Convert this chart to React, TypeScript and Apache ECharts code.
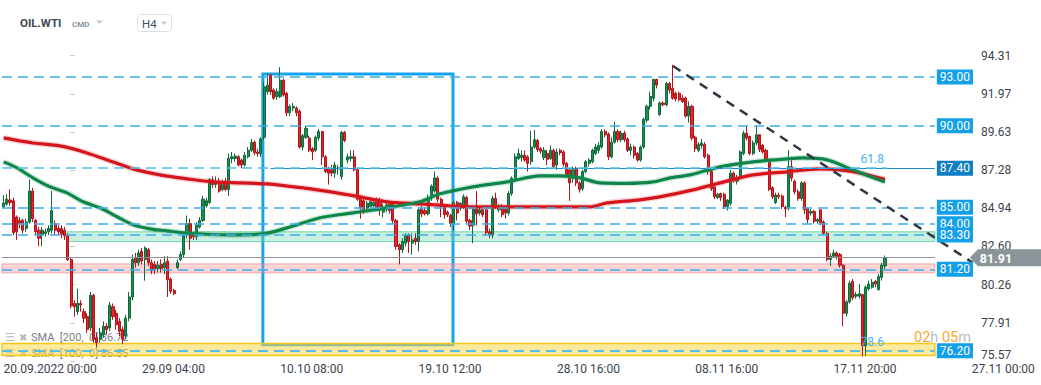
import React, { useEffect, useRef } from "react";
import * as echarts from "echarts";

// H4 candles: [open, close, low, high], index 0 = 20.09.2022 00:00
const ohlc: number[][] = [
  [85.05, 85.26, 84.95, 85.75], [85.2, 85.5, 85.1, 85.8], [85.45, 85.3, 85.1, 86.1], [85.4, 83.45, 83.3, 85.6],
  [84.4, 83.5, 83.0, 84.5], [84.2, 84.0, 83.7, 84.4], [84.2, 83.6, 83.4, 84.3], [83.7, 84.1, 83.5, 84.3],
  [84.1, 86.0, 84.0, 86.7], [86.0, 84.3, 84.1, 86.2], [84.2, 83.5, 83.3, 84.3], [83.6, 83.1, 82.6, 83.8],
  [83.3, 83.6, 82.6, 83.8], [83.4, 83.5, 83.2, 83.7], [83.5, 83.7, 83.3, 83.9], [83.6, 84.8, 83.4, 86.0],
  [84.0, 83.6, 83.3, 84.2], [83.7, 83.5, 83.3, 83.9], [83.7, 83.35, 83.1, 83.9], [83.6, 83.25, 83.0, 83.8],
  [83.3, 81.8, 81.7, 83.4], [81.8, 78.95, 78.8, 81.9], [79.1, 78.9, 78.3, 79.3], [78.6, 79.1, 78.4, 80.0],
  [79.1, 79.0, 78.6, 79.3], [78.6, 78.2, 77.9, 78.8], [78.3, 77.5, 77.3, 78.5], [77.6, 79.6, 77.4, 79.8],
  [79.6, 76.9, 76.7, 79.7], [77.0, 76.7, 76.4, 77.3], [76.9, 77.3, 76.7, 77.6], [77.2, 77.7, 77.0, 78.0],
  [77.7, 77.5, 77.2, 77.9], [77.6, 79.0, 77.4, 79.2], [78.9, 78.3, 78.1, 79.1], [78.5, 77.8, 77.5, 78.7],
  [78.0, 77.4, 77.1, 78.2], [77.5, 76.9, 76.6, 77.7], [77.1, 78.2, 76.9, 78.4], [78.2, 79.5, 78.0, 79.8],
  [79.5, 81.8, 79.3, 82.1], [81.9, 81.6, 81.3, 82.2], [81.6, 82.2, 81.4, 82.4], [82.3, 81.7, 81.5, 82.5],
  [81.8, 82.5, 80.5, 82.6], [82.4, 81.6, 81.4, 82.5], [81.6, 81.1, 80.9, 81.8], [81.5, 81.2, 80.9, 81.7],
  [81.25, 81.45, 81.0, 81.7], [81.5, 81.25, 81.0, 81.8], [81.3, 81.6, 80.9, 82.0], [81.7, 80.55, 79.5, 82.0],
  [80.6, 79.85, 79.7, 80.7], [79.9, 79.7, 79.6, 80.0], [81.3, 81.6, 81.2, 81.8], [81.8, 82.1, 81.7, 82.3],
  [82.1, 83.3, 81.9, 83.5], [83.3, 84.0, 83.1, 84.5], [84.0, 83.1, 82.4, 84.3], [83.3, 83.2, 83.0, 83.5],
  [83.2, 83.9, 83.0, 84.1], [83.8, 84.2, 83.7, 84.4], [84.2, 85.5, 84.1, 85.7], [85.1, 85.4, 85.0, 85.6],
  [85.3, 86.7, 85.2, 86.8], [86.7, 86.4, 86.2, 86.9], [86.4, 86.6, 86.2, 86.9], [86.6, 86.0, 85.9, 86.8],
  [86.1, 86.5, 86.0, 86.7], [86.6, 86.1, 86.0, 86.8], [86.1, 88.0, 85.7, 88.3], [88.0, 88.1, 87.7, 88.4],
  [88.0, 88.15, 87.8, 88.3], [88.1, 87.6, 87.5, 88.2], [87.9, 87.6, 87.4, 88.0], [87.6, 88.2, 87.5, 88.4],
  [88.1, 88.5, 88.0, 88.7], [88.5, 89.0, 88.4, 89.2], [89.0, 88.35, 88.2, 89.1], [88.4, 88.3, 88.1, 88.6],
  [88.3, 89.2, 88.1, 89.3], [89.3, 92.4, 89.1, 92.7], [92.1, 92.5, 91.9, 93.2], [93.1, 92.1, 91.9, 93.2],
  [92.2, 91.7, 91.6, 92.3], [91.8, 92.1, 91.6, 92.3], [91.8, 92.8, 91.7, 93.6], [92.8, 91.9, 91.8, 92.9],
  [92.0, 90.8, 90.6, 92.1], [90.8, 91.2, 90.6, 91.3], [91.1, 91.2, 90.9, 91.4], [91.1, 90.8, 90.6, 91.2],
  [90.9, 88.7, 88.6, 91.0], [88.7, 89.4, 88.5, 89.5], [89.3, 89.85, 89.2, 90.0], [89.25, 88.5, 88.4, 89.4],
  [88.6, 88.4, 87.9, 88.7], [88.5, 89.3, 88.4, 89.4], [89.25, 89.65, 89.1, 89.8], [89.65, 88.1, 87.6, 89.7],
  [88.1, 87.2, 87.1, 88.2], [87.4, 87.1, 86.4, 87.5], [87.3, 87.1, 86.9, 87.6], [87.1, 87.6, 86.8, 87.8],
  [87.35, 87.45, 87.0, 87.6], [86.9, 89.6, 86.7, 89.7], [89.6, 89.1, 89.0, 89.7], [87.9, 88.1, 87.7, 88.3],
  [88.0, 88.1, 87.8, 88.5], [88.1, 87.3, 87.2, 88.5], [87.3, 85.5, 85.4, 87.4], [85.6, 84.95, 84.3, 85.7],
  [85.4, 84.85, 84.6, 85.6], [84.95, 85.25, 84.7, 85.4], [85.05, 85.35, 84.9, 85.6], [85.1, 85.3, 85.0, 85.5],
  [85.5, 84.95, 84.8, 85.6], [85.4, 85.05, 84.5, 85.6], [84.7, 85.0, 84.4, 85.2], [84.9, 85.15, 84.7, 85.3],
  [85.2, 84.8, 84.6, 85.3], [85.2, 84.2, 84.0, 85.3], [84.2, 82.6, 82.4, 84.3], [82.7, 82.4, 81.5, 82.8],
  [82.4, 82.9, 82.2, 83.1], [82.8, 83.3, 82.6, 83.4], [83.3, 82.9, 82.2, 83.4], [82.8, 83.0, 82.1, 83.4],
  [83.1, 82.9, 82.7, 83.4], [82.9, 84.85, 82.3, 85.0], [84.9, 84.6, 84.4, 85.1], [84.8, 84.6, 84.5, 85.0],
  [84.6, 85.6, 84.5, 85.8], [85.6, 86.3, 85.4, 86.4], [86.0, 86.8, 85.9, 87.2], [86.8, 85.5, 85.3, 86.9],
  [85.5, 85.05, 84.4, 85.6], [85.05, 84.55, 84.3, 85.2], [84.7, 84.55, 84.4, 84.8], [84.5, 84.0, 83.8, 84.6],
  [84.0, 85.3, 83.6, 85.4], [85.3, 84.65, 84.2, 85.4], [84.95, 85.25, 84.8, 85.3], [85.05, 85.65, 84.9, 85.8],
  [85.6, 84.15, 84.0, 85.7], [84.2, 83.85, 83.6, 84.3], [83.9, 84.9, 82.8, 85.0], [84.9, 84.6, 83.9, 86.0],
  [84.65, 84.85, 84.5, 85.0], [84.85, 84.55, 84.4, 85.0], [84.85, 83.45, 83.3, 84.9], [83.5, 83.3, 83.1, 83.7],
  [83.3, 85.55, 83.1, 85.7], [85.55, 85.05, 84.9, 85.9], [84.85, 85.1, 84.7, 85.2], [85.05, 84.55, 84.4, 85.2],
  [84.9, 84.65, 84.3, 85.0], [84.65, 85.85, 84.5, 86.0], [85.85, 86.8, 85.7, 86.9], [86.75, 88.1, 86.6, 88.3],
  [88.0, 88.3, 87.9, 88.6], [88.05, 88.2, 87.8, 88.5], [88.2, 87.9, 87.8, 88.5], [88.1, 87.7, 87.2, 88.2],
  [87.8, 88.7, 87.6, 89.7], [88.7, 89.15, 88.6, 89.75], [89.1, 88.55, 88.4, 89.2], [88.6, 88.45, 88.3, 88.7],
  [88.05, 88.5, 87.9, 88.7], [88.3, 87.95, 87.6, 88.5], [88.0, 88.5, 87.9, 88.8], [88.5, 87.5, 87.4, 88.6],
  [87.6, 88.4, 87.3, 88.6], [88.5, 88.35, 88.2, 88.6], [88.4, 87.65, 87.5, 88.5], [87.7, 87.0, 86.9, 87.8],
  [87.3, 86.5, 85.4, 87.4], [86.8, 87.3, 86.5, 87.5], [87.4, 86.5, 86.3, 87.5], [86.5, 86.1, 85.9, 86.6],
  [86.15, 87.2, 86.0, 87.3], [87.2, 87.8, 87.1, 87.9], [87.7, 87.9, 87.5, 88.0], [87.8, 88.5, 87.7, 88.6],
  [88.3, 88.7, 88.2, 88.9], [88.5, 88.8, 88.3, 89.0], [88.7, 89.65, 88.6, 89.8], [89.65, 89.45, 89.3, 89.8],
  [89.5, 88.1, 87.9, 89.6], [88.1, 89.0, 88.0, 89.3], [89.0, 89.65, 88.9, 90.25], [89.65, 89.15, 89.0, 89.8],
  [89.15, 89.55, 89.0, 89.7], [89.55, 89.15, 89.0, 89.7], [89.2, 88.5, 88.4, 89.3], [88.5, 88.7, 88.2, 88.9],
  [88.7, 88.2, 88.0, 88.8], [88.3, 87.9, 87.8, 88.4], [87.9, 88.7, 87.8, 88.8], [88.7, 90.4, 88.6, 90.5],
  [90.35, 91.2, 90.2, 91.3], [91.2, 91.8, 91.0, 92.1], [91.7, 92.85, 91.5, 92.9], [92.85, 92.5, 92.3, 92.9],
  [90.7, 91.4, 90.6, 91.5], [91.4, 91.3, 91.2, 91.5], [91.3, 92.6, 91.2, 92.7], [92.6, 92.2, 92.0, 92.7],
  [92.3, 91.7, 91.6, 93.75], [92.0, 91.65, 91.5, 92.1], [92.0, 91.6, 91.5, 92.1], [91.7, 91.5, 91.4, 91.9],
  [91.7, 90.6, 90.5, 91.8], [90.6, 91.2, 90.2, 91.5], [91.2, 89.25, 89.1, 91.3], [89.3, 88.6, 88.4, 89.4],
  [88.5, 88.85, 88.4, 89.0], [88.8, 88.95, 88.6, 89.2], [88.85, 88.1, 88.0, 89.0], [88.2, 87.2, 87.0, 88.3],
  [87.2, 86.15, 86.0, 87.3], [86.25, 85.65, 85.5, 86.3], [85.6, 85.8, 85.5, 85.9], [85.85, 85.6, 85.4, 85.9],
  [85.8, 85.05, 84.9, 85.9], [85.05, 85.45, 84.8, 85.5], [85.25, 87.1, 85.1, 87.3], [87.1, 86.7, 86.5, 87.2],
  [86.6, 86.8, 86.4, 87.0], [86.8, 88.4, 86.7, 88.5], [88.3, 89.55, 88.2, 89.7], [89.55, 89.25, 89.1, 90.0],
  [89.35, 88.3, 88.2, 89.4], [88.3, 88.95, 88.2, 89.1], [88.95, 89.45, 88.8, 90.0], [89.45, 88.55, 88.4, 89.5],
  [88.8, 88.4, 88.3, 88.9], [88.5, 87.9, 87.8, 88.6], [87.9, 86.1, 86.0, 88.0], [86.2, 85.65, 85.5, 86.3],
  [85.3, 85.75, 85.2, 85.9], [85.75, 85.65, 85.5, 85.9], [85.7, 85.05, 84.9, 85.8], [85.0, 84.9, 84.4, 85.1],
  [84.95, 87.5, 84.8, 88.5], [87.5, 86.8, 86.6, 88.1], [86.6, 85.95, 85.8, 86.7], [85.95, 85.55, 85.4, 86.1],
  [85.55, 86.5, 85.4, 86.6], [86.5, 84.85, 84.6, 86.6], [84.95, 84.25, 84.0, 85.0], [84.65, 84.75, 84.5, 84.9],
  [84.75, 84.15, 84.0, 84.85], [84.15, 84.25, 84.0, 84.35], [84.85, 84.05, 83.9, 84.9], [84.1, 83.4, 83.3, 84.2],
  [83.4, 81.8, 81.7, 83.5], [81.8, 82.0, 81.4, 82.2], [82.0, 82.2, 81.9, 82.4], [82.2, 82.0, 81.8, 82.3],
  [82.1, 81.45, 81.3, 82.2], [81.45, 78.5, 77.7, 81.5], [78.5, 79.2, 78.3, 79.3], [79.2, 80.35, 79.1, 80.5],
  [80.45, 79.45, 79.3, 80.6], [79.55, 79.65, 79.4, 79.8], [79.55, 79.7, 79.4, 80.3], [79.65, 76.5, 75.85, 79.7],
  [76.5, 80.1, 75.9, 80.2], [80.0, 80.3, 79.9, 80.5], [80.1, 80.4, 80.0, 80.6], [80.45, 80.3, 80.1, 80.55],
  [79.95, 80.75, 79.9, 80.9], [80.7, 81.45, 80.5, 81.6], [81.4, 81.91, 81.2, 82.05],
];

// moving averages: [candle index, value]
const sma200: number[][] = [
  [0, 89.26], [9.1, 88.95], [17.5, 88.77], [25.9, 88.34], [33.1, 87.85], [40.2, 87.36], [48.6, 86.99],
  [57, 86.75], [65.1, 86.56], [73.5, 86.5], [81.9, 86.44], [93.1, 86.19], [103.6, 85.89], [110.8, 85.64],
  [119.2, 85.34], [129.4, 85.21], [138.8, 85.09], [145.9, 85.03], [161.5, 85.03], [182.3, 85.03],
  [187.6, 85.27], [197.8, 85.46], [204, 85.64], [214.3, 86.07], [222.7, 86.5], [233, 86.99],
  [243.5, 87.18], [253.8, 87.36], [260, 87.3], [266.2, 87.11], [274, 86.72],
];
const sma100: number[][] = [
  [0, 87.79], [4.2, 87.42], [9.1, 86.81], [14.4, 86.26], [19.7, 85.89], [24.7, 85.34], [30, 84.97],
  [35.3, 84.42], [40.2, 83.93], [45.5, 83.68], [50.8, 83.56], [55.8, 83.44], [61.1, 83.37], [70.4, 83.31],
  [80.6, 83.37], [88.1, 83.74], [98.4, 84.36], [108.6, 84.66], [119.2, 84.97], [129.4, 85.34],
  [135.7, 85.83], [145.9, 86.26], [156.5, 86.56], [166.7, 86.93], [173, 86.93], [179.2, 86.81],
  [185.4, 86.5], [193.8, 86.47], [201.9, 86.56], [207.2, 86.81], [213.4, 86.99], [222.7, 87.48],
  [233, 87.79], [243.5, 87.97], [248.5, 88.03], [256, 87.91], [264, 87.3], [274, 86.55],
];

const levels = [93.0, 90.0, 87.4, 85.0, 84.0, 83.3, 81.2, 76.2];
const fibLevels = [87.4, 76.2];
const fibLabels = ["61.8", "78.6"];
const zones = [[82.9, 83.5], [80.98, 81.53], [75.9, 76.65]];
const zoneStartIdx = [19.7, -0.5, -0.5];
const lastPrice = 81.91;
const trendline = [[208.1, 93.67], [301.3, 81.6]];
const boxCorners = [[80.6, 93.18], [139.7, 76.57]];
const xTickIndex = [0, 43, 86, 129, 172, 215, 258, 301];
const xTickLabels = ["20.09.2022 00:00", "29.09 04:00", "10.10 08:00", "19.10 12:00", "28.10 16:00", "08.11 16:00", "17.11 20:00", "27.11 00:00"];
const yTicks = [75.57, 77.91, 80.26, 82.6, 84.94, 87.28, 89.63, 91.97, 94.31];

const N_SLOTS = 323;
const LEFT = -0.5;
const LINE_END = 289.5;
const FIB_END = 274.6;
const FONT = "Roboto, 'Noto Sans', sans-serif";

function buildOption() {
  const categories = Array.from({ length: N_SLOTS }, (_, i) => String(i));
  const zoneStyles = [
    { color: "rgba(110,214,172,0.38)", borderColor: "rgba(70,196,146,0.7)", borderWidth: 1 },
    { color: "rgba(246,150,158,0.4)", borderColor: "rgba(238,120,130,0.6)", borderWidth: 1 },
    { color: "rgba(254,214,60,0.5)", borderColor: "#f4c71c", borderWidth: 1.5 },
  ];
  const last200 = sma200[sma200.length - 1][1];
  const last100 = sma100[sma100.length - 1][1];

  return {
    animation: false,
    textStyle: { fontFamily: FONT },
    grid: { left: 2, right: 0, top: 40, bottom: 24 },
    xAxis: [
      { type: "category", data: categories, show: false, boundaryGap: true },
      {
        type: "value", min: LEFT, max: N_SLOTS - 0.5, position: "bottom",
        axisLine: { show: false }, axisTick: { show: false }, splitLine: { show: false },
        axisLabel: {
          customValues: xTickIndex,
          formatter: (v: number) => { const k = xTickIndex.indexOf(Math.round(v)); return k >= 0 ? xTickLabels[k] : ""; },
          align: "left", margin: 2, color: "#3b444d", fontSize: 12, fontFamily: FONT,
        },
      },
    ],
    yAxis: [{
      type: "value", position: "right", offset: -68, min: 75.57, max: 95.27,
      axisLine: { show: false }, splitLine: { show: false },
      axisTick: { show: true, length: 5, customValues: yTicks, lineStyle: { color: "#c9cdd1" } },
      axisLabel: {
        customValues: yTicks, formatter: (v: number) => v.toFixed(2), margin: 8,
        color: "#3b444d", fontSize: 12, fontFamily: FONT, verticalAlignMinLabel: "bottom",
      },
    }],
    graphic: [
      { type: "text", x: 20, y: 23, z: 10, style: { text: "OIL.WTI", font: `bold 11.5px ${FONT}`, fill: "#3d4954", textVerticalAlign: "middle", verticalAlign: "middle" } },
      { type: "text", x: 72, y: 24.5, z: 10, style: { text: "CMD", font: `bold 8px ${FONT}`, fill: "#8796a5", textVerticalAlign: "middle", verticalAlign: "middle" } },
      { type: "polygon", z: 10, shape: { points: [[96, 20.5], [103, 20.5], [99.5, 24]] }, style: { fill: "#c6ccd2" } },
      { type: "rect", z: 10, shape: { x: 137.5, y: 14.5, width: 34, height: 17, r: 3 }, style: { fill: "#fff", stroke: "#dde1e5", lineWidth: 1 } },
      { type: "text", x: 142, y: 23.5, z: 11, style: { text: "H4", font: `11.5px ${FONT}`, fill: "#454d55", textVerticalAlign: "middle", verticalAlign: "middle" } },
      { type: "polygon", z: 11, shape: { points: [[161, 21.5], [167, 21.5], [164, 25]] }, style: { fill: "#c6ccd2" } },
      { type: "text", x: 5, y: 337, z: 1, style: { text: "☰", font: `11px 'DejaVu Sans'`, fill: "#b4bac0", textVerticalAlign: "middle", verticalAlign: "middle" } },
      { type: "text", x: 19, y: 337, z: 1, style: { text: "✖", font: `10px 'DejaVu Sans'`, fill: "#b4bac0", textVerticalAlign: "middle", verticalAlign: "middle" } },
      { type: "text", x: 31, y: 337.5, z: 1, style: { text: `SMA  [200,  0] ${last200.toFixed(2)}`, font: `11px ${FONT}`, fill: "#767f88", textVerticalAlign: "middle", verticalAlign: "middle" } },
      { type: "text", x: 5, y: 353, z: 1, style: { text: "☰", font: `11px 'DejaVu Sans'`, fill: "#b4bac0", textVerticalAlign: "middle", verticalAlign: "middle" } },
      { type: "text", x: 19, y: 353, z: 1, style: { text: "✖", font: `10px 'DejaVu Sans'`, fill: "#b4bac0", textVerticalAlign: "middle", verticalAlign: "middle" } },
      { type: "text", x: 31, y: 353.5, z: 1, style: { text: `SMA  [100,  0] ${last100.toFixed(2)}`, font: `11px ${FONT}`, fill: "#767f88", textVerticalAlign: "middle", verticalAlign: "middle" } },
      {
        type: "text", x: 914, y: 337.5, z: 1,
        style: {
          text: "{o|02}{g|h} {o|05}{g|m}", font: `14.5px ${FONT}`, textVerticalAlign: "middle", verticalAlign: "middle",
          rich: { o: { fill: "#f7a52c", font: `14.5px ${FONT}` }, g: { fill: "#b9bfc5", font: `14.5px ${FONT}` } },
        },
      },
    ],
    series: [
      {
        type: "candlestick", xAxisIndex: 0, yAxisIndex: 0, data: ohlc, barWidth: 2.6, z: 2,
        itemStyle: { color: "#1b8e52", color0: "#e3262d", borderColor: "#0f6a3b", borderColor0: "#b0141a", borderWidth: 1 },
      },
      { type: "line", xAxisIndex: 1, data: sma200, smooth: 0.3, showSymbol: false, z: 3, lineStyle: { color: "#e2464b", width: 6, opacity: 0.22 } },
      { type: "line", xAxisIndex: 1, data: sma100, smooth: 0.3, showSymbol: false, z: 3, lineStyle: { color: "#2e9e67", width: 6, opacity: 0.22 } },
      { type: "line", xAxisIndex: 1, data: sma200, smooth: 0.3, showSymbol: false, z: 3, lineStyle: { color: "#d5141b", width: 3.2 } },
      { type: "line", xAxisIndex: 1, data: sma100, smooth: 0.3, showSymbol: false, z: 3, lineStyle: { color: "#0f8649", width: 3.2 } },
      {
        type: "line", xAxisIndex: 1, data: [], z: 4,
        markLine: {
          silent: true, symbol: ["none", "none"],
          data: levels.map((p) => {
            const key = p === 87.4;
            return [
              {
                coord: [key ? 83 : LEFT, p],
                lineStyle: key ? { color: "#1f87cc", width: 1, type: "solid" } : { color: "#3caeea", width: 1.5, type: [10, 6] },
                label: {
                  show: true, position: "end", distance: 2, formatter: p.toFixed(2), color: "#fff",
                  backgroundColor: key ? "#0f7ec2" : "#13a0e9", padding: [2, 3, 1, 3], fontSize: 12, lineHeight: 12, fontFamily: FONT,
                },
              },
              { coord: [LINE_END, p] },
            ];
          }),
        },
      },
      {
        type: "line", xAxisIndex: 1, data: [], z: 4,
        markLine: {
          silent: true, symbol: ["none", "none"],
          data: fibLevels.map((p, k) => [
            {
              coord: [LEFT, p], lineStyle: { color: "#52bdf0", width: 1.5, type: [10, 6] },
              label: { show: true, position: "insideEndTop", formatter: fibLabels[k], color: "#45b5ef", fontSize: 12, distance: 3, fontFamily: FONT },
            },
            { coord: [FIB_END, p] },
          ]),
        },
      },
      {
        type: "line", xAxisIndex: 1, data: [], z: 4,
        markArea: {
          silent: true,
          itemStyle: { color: "rgba(0,0,0,0)", borderColor: "#18a3ec", borderWidth: 3 },
          data: [[{ coord: boxCorners[0] }, { coord: boxCorners[1] }]],
        },
      },
      {
        type: "line", xAxisIndex: 1, data: [], z: 5,
        markArea: {
          silent: true,
          data: zones.map(([lo, hi], k) => [{ coord: [zoneStartIdx[k], hi], itemStyle: zoneStyles[k] }, { coord: [LINE_END, lo] }]),
        },
      },
      {
        type: "line", xAxisIndex: 1, data: [], z: 6,
        markLine: {
          silent: true, symbol: ["none", "none"], label: { show: false },
          data: [
            [{ coord: [LEFT, lastPrice], lineStyle: { color: "#8d9498", width: 1.2, type: "solid" } }, { coord: [LINE_END, lastPrice] }],
            [{ coord: trendline[0], lineStyle: { color: "#2d3844", width: 2.5, type: [9, 7] } }, { coord: trendline[1] }],
          ],
        },
        markPoint: {
          silent: true,
          data: [{
            coord: [311.6, lastPrice], symbol: "path://M0,8.5L8,0L72,0L72,17L8,17Z", symbolSize: [72, 17],
            itemStyle: { color: "#8b9599" },
            label: { show: true, position: "inside", formatter: lastPrice.toFixed(2), color: "#fff", fontWeight: "bold", fontSize: 12.5, offset: [-10, 0.5], fontFamily: FONT },
          }],
        },
      },
    ],
  };
}

export default function App() {
  const ref = useRef<HTMLDivElement>(null);
  useEffect(() => {
    document.body.style.margin = "0";
    const chart = echarts.init(ref.current as HTMLDivElement, null, { renderer: "svg" });
    chart.setOption(buildOption() as any);
    return () => chart.dispose();
  }, []);
  return <div ref={ref} style={{ width: 1041, height: 385, background: "#fff" }} />;
}
